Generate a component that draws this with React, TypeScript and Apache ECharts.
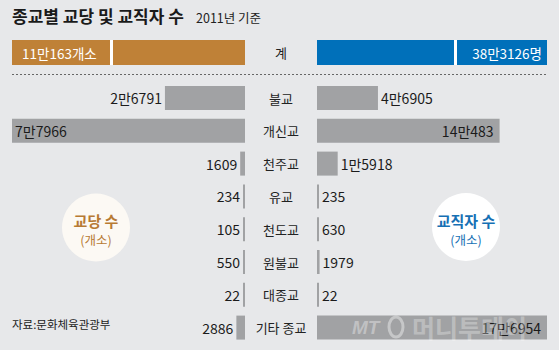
import React, { useEffect, useRef } from "react";
import * as echarts from "echarts";

const categories = ["불교", "개신교", "천주교", "유교", "천도교", "원불교", "대종교", "기타 종교"];
const templeCounts = [26791, 77966, 1609, 234, 105, 550, 22, 2886];
const clergyCounts = [46905, 140483, 15918, 235, 630, 1979, 22, 176954];
const totalCategory = ["계"];
const templeTotal = [110163];
const clergyTotal = [383126];

const FONT = "'Noto Sans CJK KR', 'Noto Sans', sans-serif";

function wan(n: number): string {
  if (n >= 10000) return `${Math.floor(n / 10000)}만${n % 10000}`;
  return `${n}`;
}

export default function App() {
  const ref = useRef<HTMLDivElement>(null);
  useEffect(() => {
    if (!ref.current) return;
    const chart = echarts.init(ref.current, undefined, { renderer: "svg" });
    const leftMax = Math.max(...templeCounts);
    const rightMax = Math.max(...clergyCounts);
    const grids = [
      { left: 12, width: 233, top: 40, height: 25 },
      { left: 317, width: 230, top: 40, height: 25 },
      { left: 12, width: 233, top: 81.6, height: 262.4 },
      { left: 317, width: 230, top: 81.6, height: 262.4 },
    ];
    const valueAxis = (gi: number, max: number, inverse: boolean) => ({
      type: "value",
      gridIndex: gi,
      min: 0,
      max,
      inverse,
      show: false,
    });
    const catAxis = (gi: number, data: string[], showLabel: boolean) => ({
      type: "category",
      gridIndex: gi,
      data,
      inverse: true,
      axisLine: { show: false },
      axisTick: { show: false },
      splitLine: { show: false },
      axisLabel: {
        show: showLabel,
        margin: 36,
        align: "center",
        color: "#222",
        fontSize: 13,
        fontFamily: FONT,
      },
    });
    const valueLabelColor = "#1b1b1b";
    chart.setOption({
      animation: false,
      backgroundColor: "#e7e8ea",
      grid: grids,
      xAxis: [
        valueAxis(0, templeTotal[0], true),
        valueAxis(1, clergyTotal[0], false),
        valueAxis(2, leftMax, true),
        valueAxis(3, rightMax, false),
      ],
      yAxis: [
        catAxis(0, totalCategory, false),
        catAxis(1, totalCategory, true),
        catAxis(2, categories, false),
        catAxis(3, categories, true),
      ],
      series: [
        {
          type: "bar",
          xAxisIndex: 0,
          yAxisIndex: 0,
          data: templeTotal,
          barWidth: 25,
          itemStyle: { color: "#bf8137" },
          label: {
            show: true,
            position: "insideLeft",
            distance: 10,
            color: "#fff",
            fontSize: 13.5,
            fontFamily: FONT,
            formatter: (p: any) => `${wan(p.value)}개소`,
          },
        },
        {
          type: "bar",
          xAxisIndex: 1,
          yAxisIndex: 1,
          data: clergyTotal,
          barWidth: 25,
          itemStyle: { color: "#0070ba" },
          label: {
            show: true,
            position: "insideRight",
            distance: 5,
            color: "#fff",
            fontSize: 13.5,
            fontFamily: FONT,
            formatter: (p: any) => `${wan(p.value)}명`,
          },
        },
        {
          type: "bar",
          xAxisIndex: 2,
          yAxisIndex: 2,
          barWidth: 24,
          barMinHeight: 2,
          itemStyle: { color: "#a1a2a4" },
          data: templeCounts.map((v) => ({
            value: v,
            label: {
              show: true,
              position: v > leftMax * 0.6 ? "insideLeft" : "left",
              distance: 3,
              color: valueLabelColor,
              fontSize: 14,
              fontFamily: FONT,
              formatter: (p: any) => wan(p.value),
            },
          })),
        },
        {
          type: "bar",
          xAxisIndex: 3,
          yAxisIndex: 3,
          barWidth: 24,
          barMinHeight: 2,
          itemStyle: { color: "#a1a2a4" },
          data: clergyCounts.map((v) => ({
            value: v,
            label: {
              show: true,
              position: v > rightMax * 0.6 ? "insideRight" : "right",
              distance: v > rightMax * 0.6 ? 6 : 3,
              color: valueLabelColor,
              fontSize: 14,
              fontFamily: FONT,
              formatter: (p: any) => wan(p.value),
            },
          })),
        },
      ],
      graphic: [
        {
          type: "text",
          left: 12,
          top: 7,
          style: {
            text: "종교별 교당 및 교직자 수",
            fontSize: 17,
            fontWeight: "bold",
            fontFamily: FONT,
            fill: "#1a1a1a",
          },
        },
        {
          type: "text",
          left: 196,
          top: 11,
          style: {
            text: "2011년 기준",
            fontSize: 12.5,
            fontFamily: FONT,
            fill: "#222",
          },
        },
        { type: "rect", z: 100, shape: { x: 110, y: 40, width: 3, height: 25 }, style: { fill: "#fff" } },
        { type: "rect", z: 100, shape: { x: 454, y: 40, width: 3, height: 25 }, style: { fill: "#fff" } },
        {
          type: "line",
          shape: { x1: 12, y1: 74.5, x2: 547, y2: 74.5 },
          style: { stroke: "#666", lineWidth: 1, lineDash: [2, 2] },
        },
        {
          type: "circle",
          shape: { cx: 96, cy: 227.5, r: 34 },
          style: { fill: "#fcf9f4" },
        },
        {
          type: "text",
          x: 96,
          y: 220,
          style: {
            text: "교당 수",
            fontSize: 15,
            fontWeight: "bold",
            fontFamily: FONT,
            fill: "#b77a33",
            align: "center",
            verticalAlign: "middle",
          },
        },
        {
          type: "text",
          x: 96,
          y: 239.5,
          style: {
            text: "(개소)",
            fontSize: 12.5,
            fontFamily: FONT,
            fill: "#b77a33",
            align: "center",
            verticalAlign: "middle",
          },
        },
        {
          type: "circle",
          shape: { cx: 466, cy: 227, r: 34 },
          style: { fill: "#ffffff" },
        },
        {
          type: "text",
          x: 466,
          y: 220,
          style: {
            text: "교직자 수",
            fontSize: 15,
            fontWeight: "bold",
            fontFamily: FONT,
            fill: "#1670b4",
            align: "center",
            verticalAlign: "middle",
          },
        },
        {
          type: "text",
          x: 466,
          y: 239.5,
          style: {
            text: "(개소)",
            fontSize: 12.5,
            fontFamily: FONT,
            fill: "#1670b4",
            align: "center",
            verticalAlign: "middle",
          },
        },
        {
          type: "text",
          left: 12,
          top: 318,
          style: {
            text: "자료:문화체육관광부",
            fontSize: 11.5,
            fontFamily: FONT,
            fill: "#222",
          },
        },
        {
          type: "text",
          z: 100,
          x: 352,
          y: 327,
          style: {
            text: "MT",
            fontSize: 19,
            fontWeight: "bold",
            fontStyle: "italic",
            fontFamily: "'Liberation Sans', sans-serif",
            fill: "rgba(255,255,255,0.35)",
            verticalAlign: "middle",
          },
        },
        {
          type: "ellipse",
          z: 100,
          shape: { cx: 396, cy: 327, rx: 7, ry: 10 },
          style: { fill: "none", stroke: "rgba(255,255,255,0.4)", lineWidth: 3 },
        },
        {
          type: "text",
          z: 100,
          x: 412,
          y: 327,
          style: {
            text: "머니투데이",
            fontSize: 25,
            fontWeight: "bold",
            fontFamily: FONT,
            fill: "rgba(255,255,255,0.3)",
            verticalAlign: "middle",
          },
        },
      ],
    });
    return () => chart.dispose();
  }, []);
  return (
    <div
      ref={ref}
      style={{ position: "fixed", left: 0, top: 0, width: 559, height: 350 }}
    />
  );
}
